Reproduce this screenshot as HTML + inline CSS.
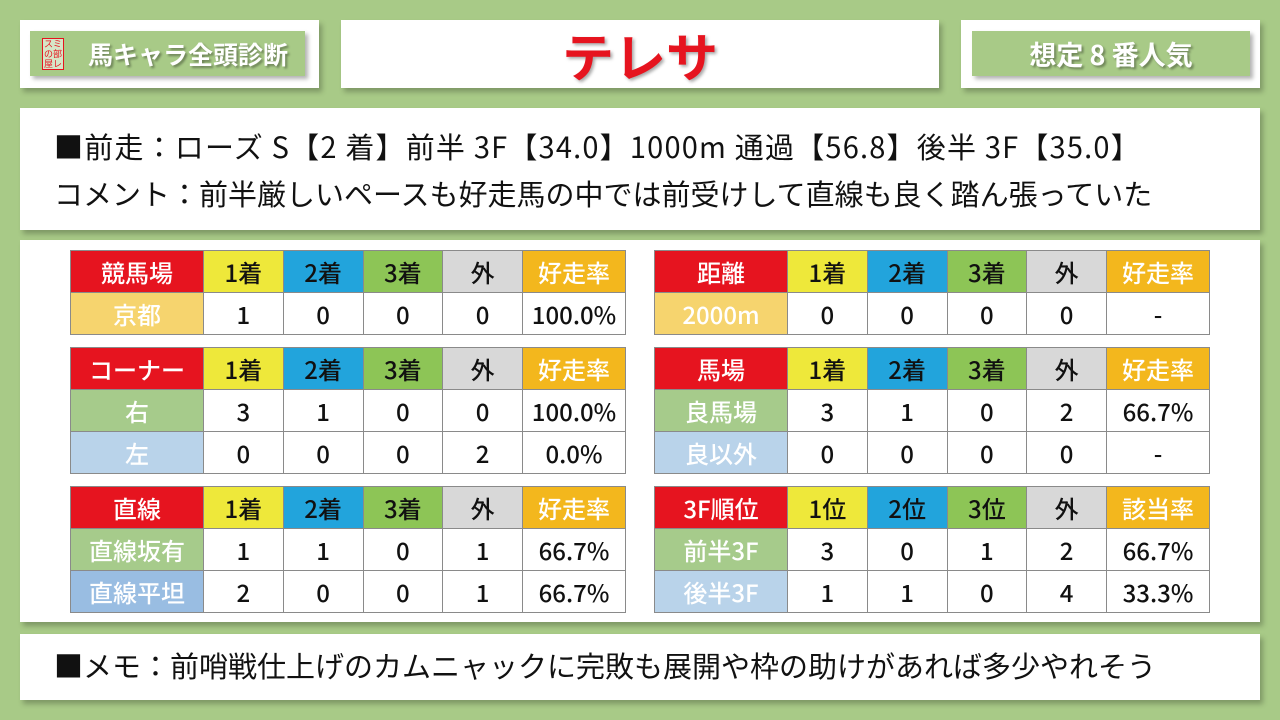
<!DOCTYPE html>
<html><head><meta charset="utf-8"><style>
*{margin:0;padding:0;box-sizing:border-box}
body{width:1280px;height:720px;background:#a8ca87;position:relative;overflow:hidden;font-family:"Noto Sans CJK JP","Liberation Sans",sans-serif}
.p{position:absolute;background:#fff;box-shadow:3px 4px 5px rgba(0,0,0,.25)}
.g{position:absolute;background:#a8ca87;color:#fff;font-weight:bold;box-shadow:3px 3px 4px rgba(0,0,0,.3);text-shadow:2px 2px 2px rgba(0,0,0,.35);display:flex;align-items:center;justify-content:center}
table{position:absolute;border-collapse:collapse;table-layout:fixed;width:556px}
td{height:42px;border:1px solid #8a8a8a;text-align:center;font-size:24px;color:#111;padding:0;line-height:40px;font-weight:500}
td:nth-child(1){width:133px}td:nth-child(6){width:103px}
.r{background:#e6141f;color:#fff!important}
.y{background:#eee83a}.b{background:#22a4dc}.gr{background:#8dc556}.gy{background:#d8d8d8}.o{background:#f3b71d;color:#fff!important}
.lb{color:#fff!important}
.be{background:#f6d46e}.lg{background:#a6cb8b}.lbl{background:#b9d3ea}.mb{background:#99bde2}
.t{position:absolute;font-size:29px;line-height:36px;color:#111;white-space:nowrap}
</style></head><body>
<div class="p" style="left:20px;top:20px;width:299px;height:68px"></div>
<div class="g" style="left:30px;top:31px;width:275px;height:45px;font-size:25px;justify-content:flex-start;padding-left:58px">馬キャラ全頭診断</div>
<div style="position:absolute;left:42px;top:38px;width:22px;height:32px;border:1px solid #e6141f;color:#e6141f;font-size:9px;line-height:10px;text-align:center;background:#fff8">スミ<br>の部<br>屋レ</div>
<div class="p" style="left:341px;top:20px;width:598px;height:68px;display:flex;align-items:center;justify-content:center;color:#e6141f;font-size:52px;font-weight:bold;text-shadow:2px 2px 3px rgba(0,0,0,.35)">テレサ</div>
<div class="p" style="left:961px;top:20px;width:299px;height:68px"></div>
<div class="g" style="left:972px;top:31px;width:278px;height:45px;font-size:27px">想定 8 番人気</div>

<div class="p" style="left:20px;top:108px;width:1240px;height:122px"></div>
<div class="t" style="left:54px;top:128px;letter-spacing:1.2px">■前走：ローズ S【2 着】前半 3F【34.0】1000m 通過【56.8】後半 3F【35.0】</div>
<div class="t" style="left:54px;top:175px">コメント：前半厳しいペースも好走馬の中では前受けして直線も良く踏ん張っていた</div>

<div class="p" style="left:20px;top:240px;width:1240px;height:382px"></div>

<table style="left:70px;top:250px">
<tr><td class="r">競馬場</td><td class="y">1着</td><td class="b">2着</td><td class="gr">3着</td><td class="gy">外</td><td class="o">好走率</td></tr>
<tr><td class="be lb">京都</td><td>1</td><td>0</td><td>0</td><td>0</td><td>100.0%</td></tr>
</table>
<table style="left:70px;top:347px">
<tr><td class="r">コーナー</td><td class="y">1着</td><td class="b">2着</td><td class="gr">3着</td><td class="gy">外</td><td class="o">好走率</td></tr>
<tr><td class="lg lb">右</td><td>3</td><td>1</td><td>0</td><td>0</td><td>100.0%</td></tr>
<tr><td class="lbl lb">左</td><td>0</td><td>0</td><td>0</td><td>2</td><td>0.0%</td></tr>
</table>
<table style="left:70px;top:486px">
<tr><td class="r">直線</td><td class="y">1着</td><td class="b">2着</td><td class="gr">3着</td><td class="gy">外</td><td class="o">好走率</td></tr>
<tr><td class="lg lb">直線坂有</td><td>1</td><td>1</td><td>0</td><td>1</td><td>66.7%</td></tr>
<tr><td class="mb lb">直線平坦</td><td>2</td><td>0</td><td>0</td><td>1</td><td>66.7%</td></tr>
</table>

<table style="left:654px;top:250px">
<tr><td class="r">距離</td><td class="y">1着</td><td class="b">2着</td><td class="gr">3着</td><td class="gy">外</td><td class="o">好走率</td></tr>
<tr><td class="be lb">2000m</td><td>0</td><td>0</td><td>0</td><td>0</td><td>-</td></tr>
</table>
<table style="left:654px;top:347px">
<tr><td class="r">馬場</td><td class="y">1着</td><td class="b">2着</td><td class="gr">3着</td><td class="gy">外</td><td class="o">好走率</td></tr>
<tr><td class="lg lb">良馬場</td><td>3</td><td>1</td><td>0</td><td>2</td><td>66.7%</td></tr>
<tr><td class="lbl lb">良以外</td><td>0</td><td>0</td><td>0</td><td>0</td><td>-</td></tr>
</table>
<table style="left:654px;top:486px">
<tr><td class="r">3F順位</td><td class="y">1位</td><td class="b">2位</td><td class="gr">3位</td><td class="gy">外</td><td class="o">該当率</td></tr>
<tr><td class="lg lb">前半3F</td><td>3</td><td>0</td><td>1</td><td>2</td><td>66.7%</td></tr>
<tr><td class="lbl lb">後半3F</td><td>1</td><td>1</td><td>0</td><td>4</td><td>33.3%</td></tr>
</table>

<div class="p" style="left:20px;top:634px;width:1240px;height:66px"></div>
<div class="t" style="left:54px;top:647px">■メモ：前哨戦仕上げのカムニャックに完敗も展開や枠の助けがあれば多少やれそう</div>
</body></html>
